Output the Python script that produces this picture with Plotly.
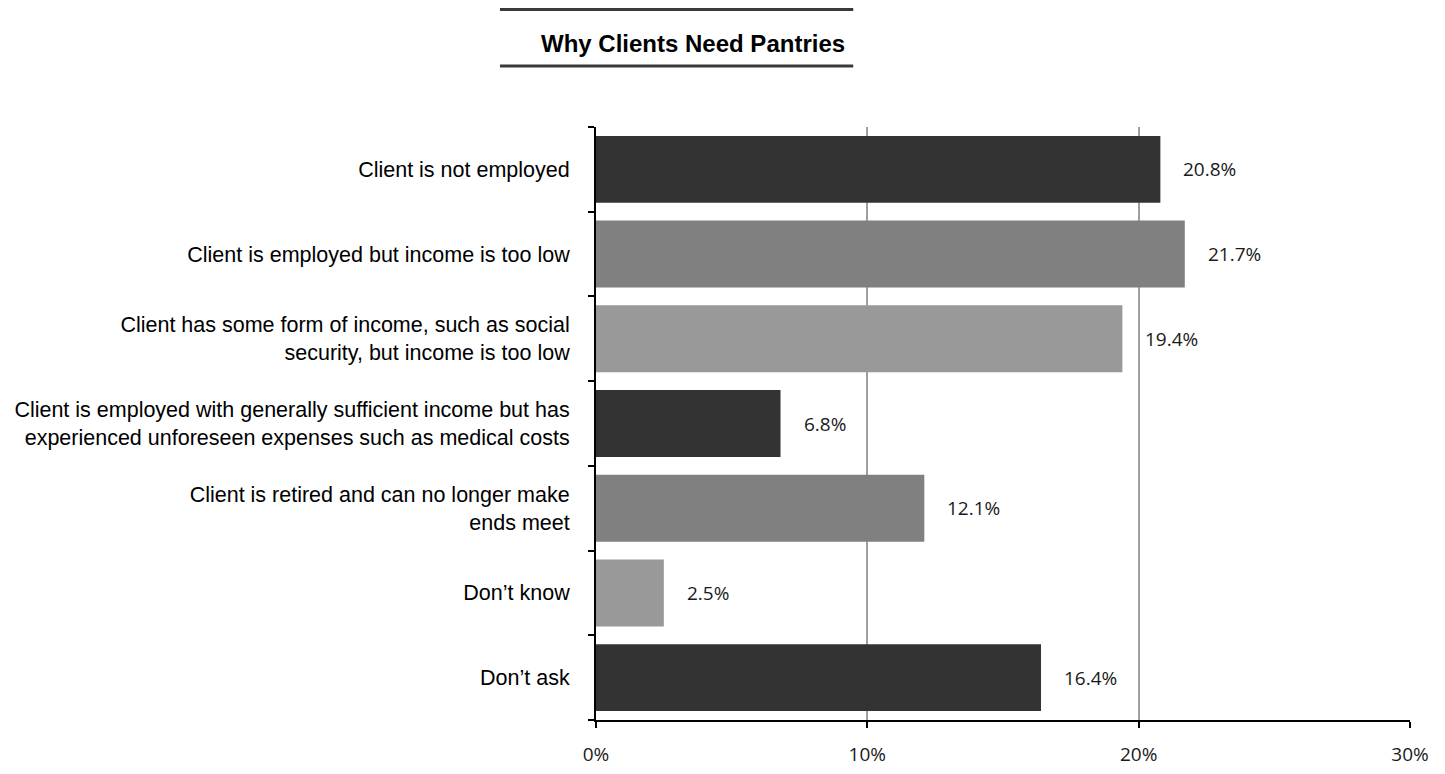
import plotly.graph_objects as go

categories = [
    "Client is not employed",
    "Client is employed but income is too low",
    "Client has some form of income, such as social<br>security, but income is too low",
    "Client is employed with generally sufficient income but has<br>experienced unforeseen expenses such as medical costs",
    "Client is retired and can no longer make<br>ends meet",
    "Don\u2019t know",
    "Don\u2019t ask",
]
values = [0.208, 0.217, 0.194, 0.068, 0.121, 0.025, 0.164]
bar_colors = ["#333333", "#808080", "#999999", "#333333", "#808080", "#999999", "#333333"]
tick_vals = [0, 0.1, 0.2, 0.3]
tick_text = ["0%", "10%", "20%", "30%"]
title_text = "Why Clients Need Pantries"

label_font = "Liberation Sans, Arial, sans-serif"
num_font = "Open Sans, Noto Sans, sans-serif"

fig = go.Figure()
fig.add_trace(go.Bar(
    x=values, y=categories, orientation="h",
    marker=dict(color=bar_colors, line=dict(width=0)),
    hoverinfo="skip",
))

for v, c in zip(values, categories):
    fig.add_annotation(x=v, y=c, xref="x", yref="y", text=f"{v*100:.1f}%",
                       showarrow=False, xanchor="left", xshift=21,
                       font=dict(family=num_font, size=19, color="#1a1a1a"))

# title and its rules
fig.add_annotation(x=0.119, y=1.140, xref="paper", yref="paper", text=f"<b>{title_text}</b>",
                   showarrow=False, xanchor="center", yanchor="middle",
                   font=dict(family=label_font, size=24, color="#000000"))
for yy in [1.1981, 1.1029]:
    fig.add_shape(type="line", xref="paper", yref="paper", x0=-0.118, x1=0.316, y0=yy, y1=yy,
                  line=dict(color="#3a3a3a", width=3))

fig.update_layout(
    width=1429, height=758,
    margin=dict(l=588, r=27, t=119, b=46, autoexpand=False),
    plot_bgcolor="white", paper_bgcolor="white",
    showlegend=False,
    bargap=0.21,
    xaxis=dict(range=[0, 0.3], tickvals=tick_vals, ticktext=tick_text,
               showgrid=True, gridcolor="#a0a0a0", gridwidth=2,
               showline=True, linecolor="#000000", linewidth=2,
               ticks="outside", ticklen=6, tickcolor="#000000", tickwidth=2,
               ticklabelstandoff=10, automargin=False,
               tickfont=dict(family=num_font, size=19, color="#1a1a1a"),
               zeroline=False, fixedrange=True),
    yaxis=dict(categoryorder="array", categoryarray=categories[::-1],
               range=[-0.5, 6.5],
               showline=True, linecolor="#000000", linewidth=2,
               ticks="outside", ticklen=6, tickcolor="#000000", tickwidth=2,
               tickson="boundaries", showgrid=False, ticklabelstandoff=20,
               automargin=False,
               tickfont=dict(family=label_font, size=21.5, color="#000000"),
               fixedrange=True),
)

fig.write_html("out.html")
